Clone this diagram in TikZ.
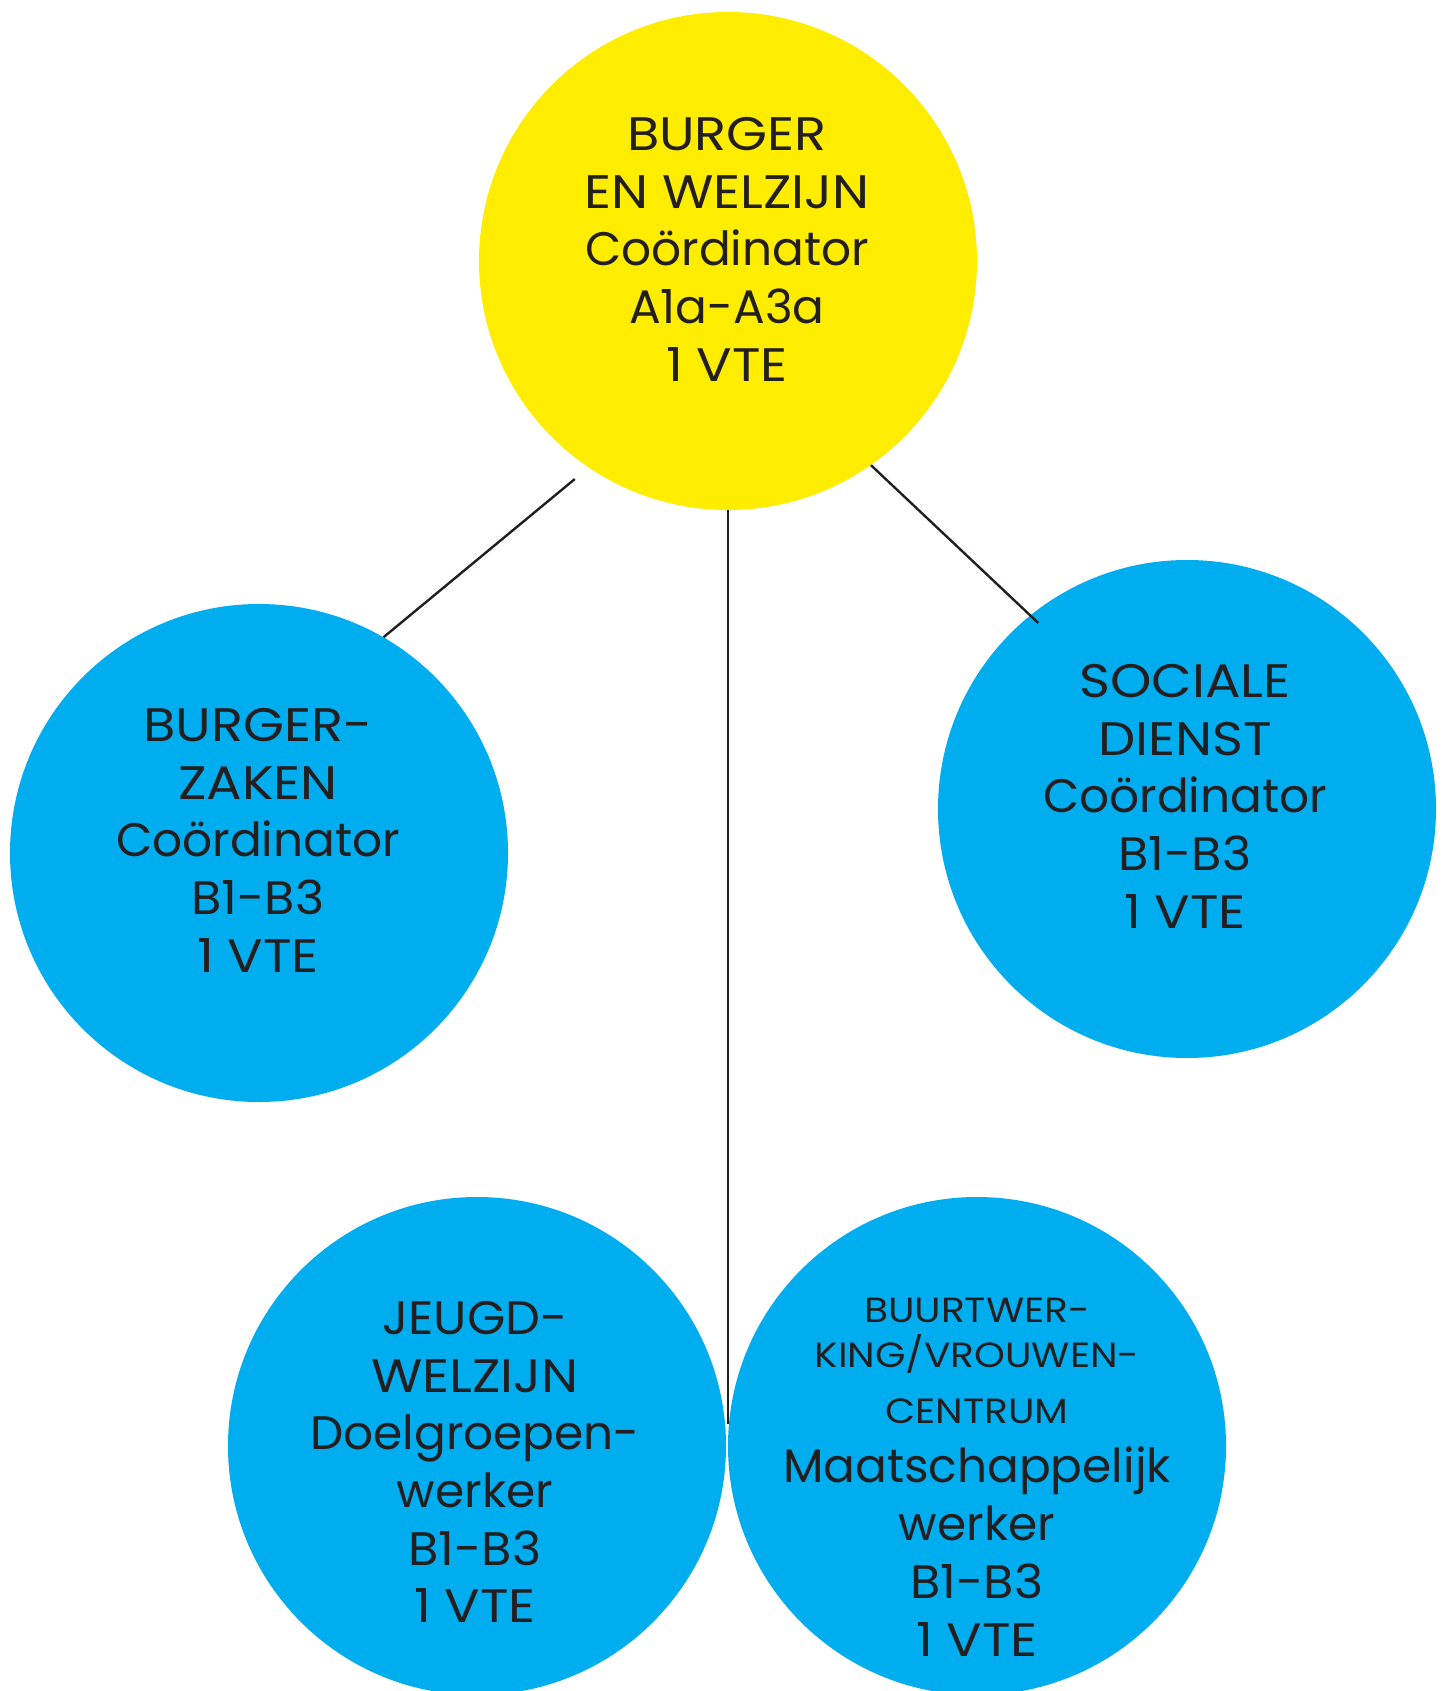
\documentclass[tikz,border=0pt]{standalone}
\usepackage{fontspec}
\setmainfont{Poppins}
\newfontfamily\widefont{Poppins}[FakeStretch=1.12]
\newfontfamily\semiwidefont{Poppins}[FakeStretch=1.05]
\definecolor{ylw}{HTML}{FFED00}
\definecolor{cyn}{HTML}{00AEEF}
\definecolor{ink}{HTML}{231F20}
\begin{document}
\begin{tikzpicture}[x=1pt,y=-1pt,
  circ/.style={circle, minimum size=498pt, inner sep=0pt, draw=none},
  yellowcirc/.style={circ, fill=ylw},
  bluecirc/.style={circ, fill=cyn},
  lbl/.style={anchor=north, inner sep=0pt, align=center, text=ink,
    font=\fontsize{47}{57.7}\selectfont},
  smalllbl/.style={lbl, font=\fontsize{35}{45}\selectfont},
  conn/.style={draw=ink, line width=2.4pt}]
\useasboundingbox (0,0) rectangle (1446,1691);
\fill[white] (0,0) rectangle (1446,1691);
% circles
\node[yellowcirc] (Y)  at (728,261) {};
\node[bluecirc]   (BZ) at (259,853) {};
\node[bluecirc]   (SD) at (1187,809) {};
\node[bluecirc]   (JW) at (477,1446) {};
\node[bluecirc]   (BW) at (977,1446) {};
% connectors
\draw[conn, shorten <=18pt] (Y.236.9) -- (BZ.60);
\draw[conn, shorten >=-11pt] (Y.-55.2) -- (SD.129.4);
\draw[conn] (Y.south) -- (Y.south |- BW.175);
% texts
\node[lbl] (tY) at (727,117) {{\widefont BURGER}\\{\widefont EN WELZIJN}\\Coördinator\\A1a-A3a\\{\widefont 1 VTE}};
\node[lbl] (tBZ) at (258,708) {{\widefont BURGER-}\\{\widefont ZAKEN}\\Coördinator\\{\semiwidefont B1-B3}\\{\widefont 1 VTE}};
\node[lbl] (tSD) at (1185,664) {{\widefont SOCIALE}\\{\widefont DIENST}\\Coördinator\\{\semiwidefont B1-B3}\\{\widefont 1 VTE}};
\node[lbl] (tJW) at (475,1301) {{\semiwidefont JEUGD-}\\{\widefont WELZIJN}\\Doelgroepen-\\werker\\{\semiwidefont B1-B3}\\{\widefont 1 VTE}};
\node[smalllbl] (tBW1) at (977,1298) {{\widefont BUURTWER-}\\{\widefont KING/VROUWEN-}\\[11pt]{\widefont CENTRUM}};
\node[lbl] (tBW2) at (977,1447) {Maatschappelijk\\werker\\{\semiwidefont B1-B3}\\{\widefont 1 VTE}};
\end{tikzpicture}
\end{document}
